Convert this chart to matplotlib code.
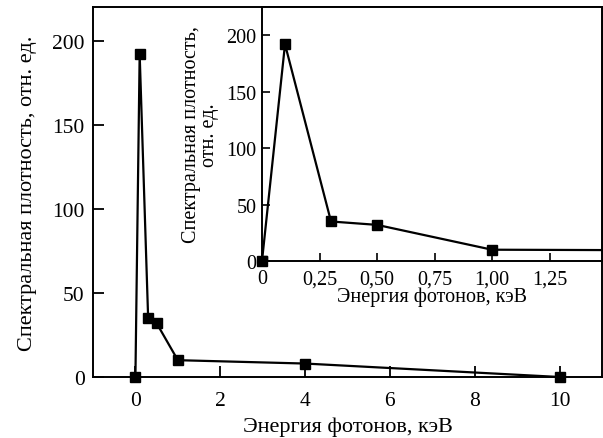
import matplotlib
matplotlib.use("Agg")
import matplotlib.pyplot as plt

plt.rcParams['font.family'] = ['Liberation Serif', 'DejaVu Serif']

energy = [0.0, 0.1, 0.3, 0.5, 1.0, 4.0, 10.0]
density = [0, 192, 35, 32, 10, 8, 0]

main_xticks = [0, 2, 4, 6, 8, 10]
main_yticks = [0, 50, 100, 150, 200]
inset_xticks = [0, 0.25, 0.5, 0.75, 1.0, 1.25]
inset_xticklabels = ["0", "0,25", "0,50", "0,75", "1,00", "1,25"]
inset_yticks = [0, 50, 100, 150, 200]

xlabel = "Энергия фотонов, кэВ"
ylabel_main = "Спектральная плотность, отн. ед."
ylabel_inset = "Спектральная плотность,\nотн. ед."

fig = plt.figure(figsize=(6.03, 4.39), dpi=100)

ax = fig.add_axes([93/603, 61/439, 509/603, 370/439])
ax.plot(energy, density, color='black', lw=1.6, marker='s', ms=7.5, clip_on=False, zorder=3)
ax.set_xlim(-1.0, 11.0)
ax.set_ylim(0, 220)
ax.set_xticks(main_xticks)
ax.set_yticks(main_yticks)
ax.tick_params(direction='in', length=8, width=1.3, labelsize=15.5)
ax.tick_params(axis='x', pad=10)
ax.tick_params(axis='y', pad=6)
ax.set_xlabel(xlabel, fontsize=16, labelpad=5)
ax.set_ylabel(ylabel_main, fontsize=16, labelpad=11)
for s in ax.spines.values():
    s.set_linewidth(1.4)

ins = fig.add_axes([262/603, 177/439, 340/603, 254/439])
ins.plot(energy, density, color='black', lw=1.6, marker='s', ms=7, zorder=3)
ins.plot([energy[0]], [density[0]], color='black', marker='s', ms=7, ls='none', clip_on=False, zorder=4)
ins.set_xlim(0, 1.478)
ins.set_ylim(0, 225)
ins.set_xticks(inset_xticks)
ins.set_xticklabels(inset_xticklabels)
ins.set_yticks(inset_yticks)
ins.tick_params(direction='in', length=6, width=1.2, labelsize=14.5)
ins.tick_params(axis='x', pad=6)
ins.tick_params(axis='y', pad=4)
ins.set_xlabel(xlabel, fontsize=14.5, labelpad=-1)
ins.set_ylabel(ylabel_inset, fontsize=14.5, labelpad=5, linespacing=0.95)
for s in ins.spines.values():
    s.set_linewidth(1.4)

fig.savefig("out.png", dpi=100)
